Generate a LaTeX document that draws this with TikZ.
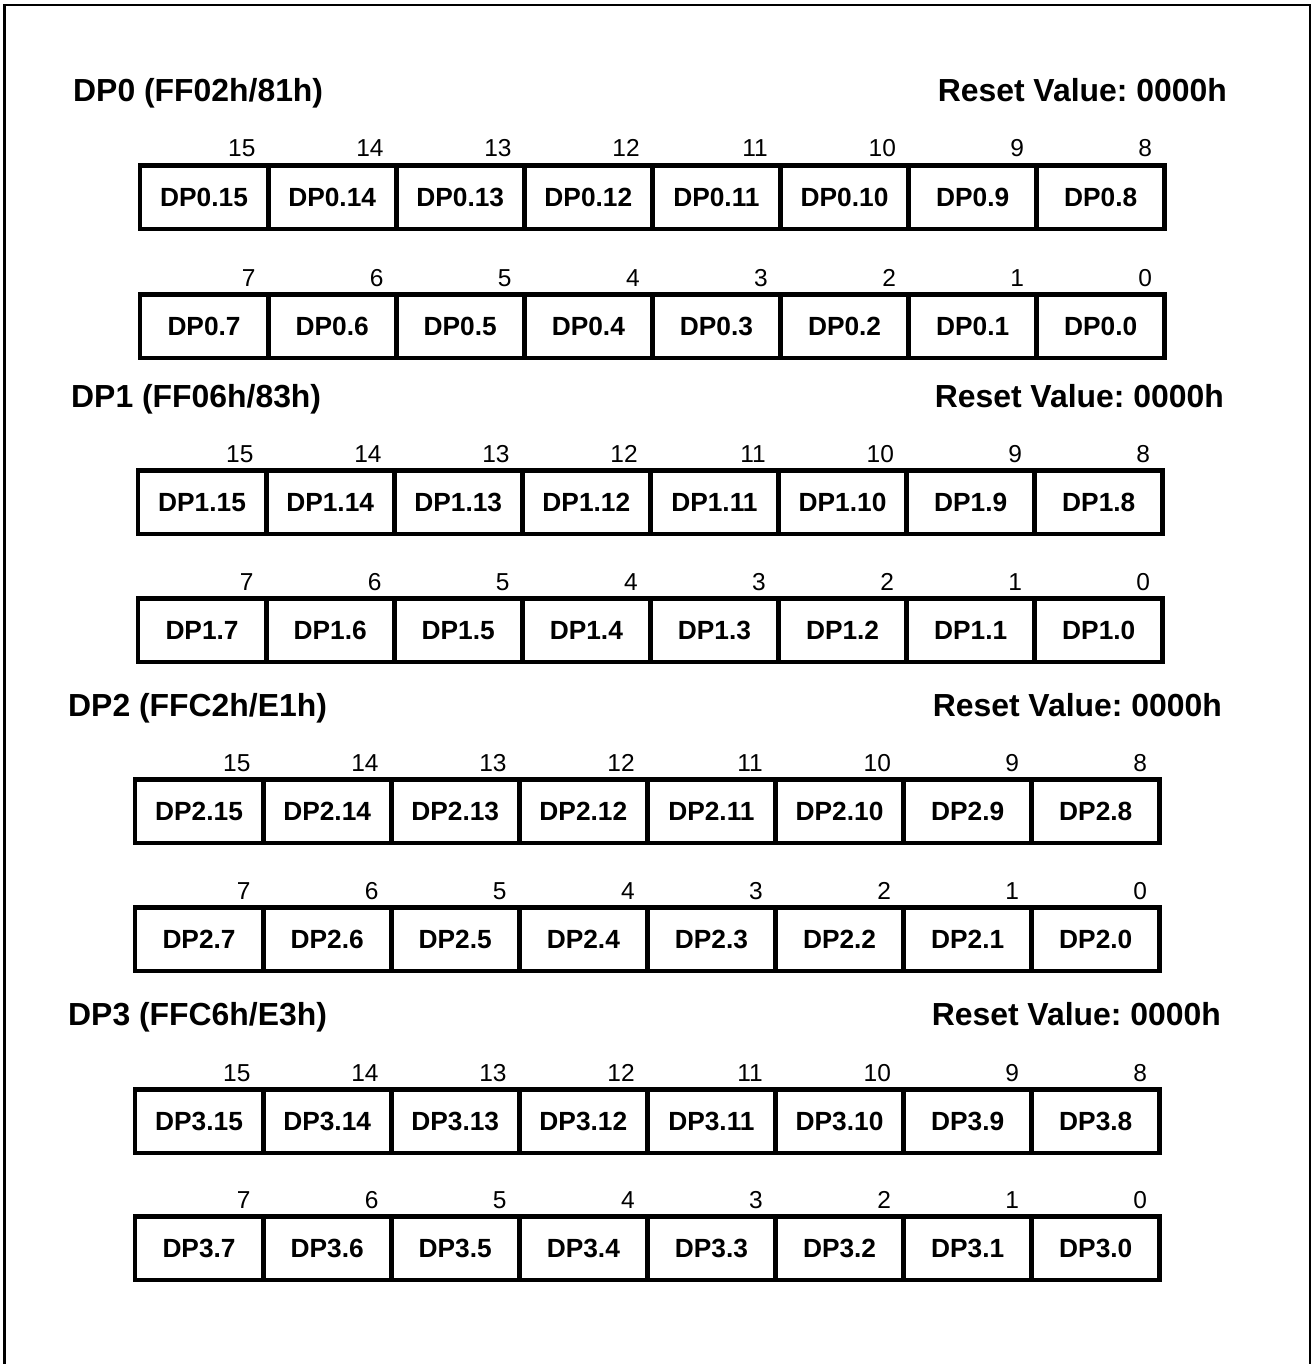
\documentclass[tikz,border=0pt]{standalone}
\usepackage{fontspec}
\setmainfont{Liberation Sans}
\frenchspacing
\begin{document}
\begin{tikzpicture}[x=1pt,y=-1pt,
  cellbox/.style={draw=black,line width=4.8pt,minimum width=128.1pt,minimum height=63.5pt,inner sep=0pt,outer sep=0pt,font=\fontsize{26.3}{30}\selectfont\bfseries,anchor=north west},
  bitnum/.style={inner sep=0pt,anchor=base east,font=\fontsize{24.5}{28}\selectfont},
  regtitle/.style={inner sep=0pt,anchor=base west,font=\fontsize{31.9}{38}\selectfont\bfseries},
  regreset/.style={inner sep=0pt,anchor=base east,font=\fontsize{31.9}{38}\selectfont\bfseries},
  frameline/.style={line width=2.2pt,draw=black}]
\useasboundingbox (0,0) rectangle (1312,1364);
\draw[frameline] (4.5,1366) -- (4.5,5) -- (1310,5) -- (1310,1366);

\node[regtitle] (t0) at (73,102) {DP0 (FF02h/81h)};
\node[regreset] (r0) at (1227,102) {Reset Value: 0000h};
\node[regtitle] (t1) at (71,407) {DP1 (FF06h/83h)};
\node[regreset] (r1) at (1224,407) {Reset Value: 0000h};
\node[regtitle] (t2) at (68,716) {DP2 (FFC2h/E1h)};
\node[regreset] (r2) at (1222,716) {Reset Value: 0000h};
\node[regtitle] (t3) at (68,1025) {DP3 (FFC6h/E3h)};
\node[regreset] (r3) at (1221,1025) {Reset Value: 0000h};

\foreach \s/\L/\ta/\tb in {0/140/165.5/294.5, 1/138/470.5/598.5, 2/135/779.5/907.5, 3/135/1089.5/1216.5}{
  \foreach \k in {0,...,7}{
    \pgfmathtruncatemacro{\hi}{15-\k}
    \pgfmathtruncatemacro{\lo}{7-\k}
    \node[cellbox] (c\s-\hi) at ({\L+\k*128.1},\ta) {DP\s.\hi};
    \node[bitnum] (n\s-\hi) at ({\L+(\k+1)*128.1-12.5},{\ta-8.5}) {\hi};
    \node[cellbox] (c\s-\lo) at ({\L+\k*128.1},\tb) {DP\s.\lo};
    \node[bitnum] (n\s-\lo) at ({\L+(\k+1)*128.1-12.5},{\tb-8.5}) {\lo};
  }
}
\end{tikzpicture}
\end{document}
